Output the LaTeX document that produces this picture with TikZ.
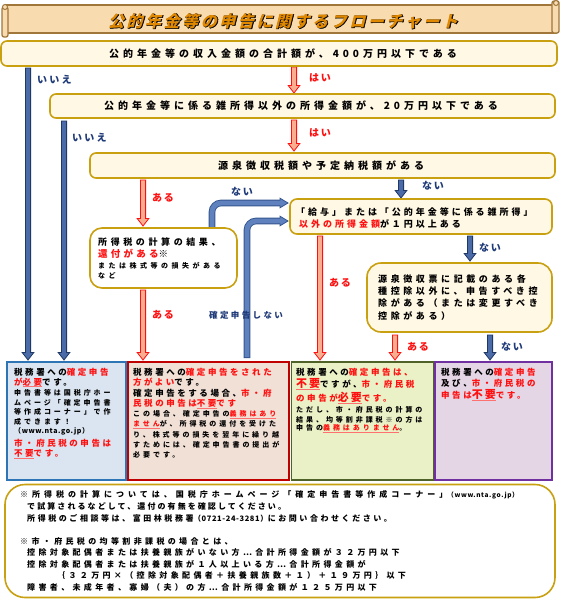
\documentclass[tikz,border=0pt]{standalone}
\usepackage{fontspec}
\setmainfont{Noto Sans CJK JP}
\usetikzlibrary{calc}
\definecolor{cream}{HTML}{FFF8E4}
\definecolor{gold}{HTML}{C8A010}
\definecolor{navy}{HTML}{1F3A78}
\definecolor{jred}{HTML}{FF1010}
\definecolor{ulred}{HTML}{FF7070}
\definecolor{rafill}{HTML}{F9AE90}
\definecolor{badraw}{HTML}{1F3864}
\definecolor{bafill}{HTML}{4A6AA8}
\definecolor{elfill}{HTML}{5F82BE}
\definecolor{eldraw}{HTML}{34558F}
\definecolor{bluebox}{HTML}{DBE5F1}
\definecolor{blueedge}{HTML}{2E75B6}
\definecolor{redbox}{HTML}{F1E0D6}
\definecolor{rededge}{HTML}{C00000}
\definecolor{greenbox}{HTML}{EBF1C6}
\definecolor{greenedge}{HTML}{4F6228}
\definecolor{purplebox}{HTML}{E5D6E6}
\definecolor{purpleedge}{HTML}{7030A0}
\definecolor{banner}{HTML}{F8DCB0}
\definecolor{banneredge}{HTML}{A0763A}
\definecolor{titleor}{HTML}{E08800}
\newcommand\fsz[2]{\fontsize{#1}{#1}\selectfont\addfontfeature{LetterSpace=#2}}
\newcommand\R[1]{\textcolor{jred}{#1}}
\newcommand\ul[1]{\setbox0\hbox{#1}\rlap{\textcolor{ulred}{\rule[-2.4pt]{\wd0}{1.2pt}}}\box0}
\newcommand\vblk[3]{\path[#1] let \p1=(#2), \p2=(#3) in
  (\x1-2.6pt,\y1) -- (\x1+2.6pt,\y1) -- (\x1+2.6pt,\y2+7.5pt) -- (\x1+5.8pt,\y2+7.5pt)
  -- (\x1,\y2) -- (\x1-5.8pt,\y2+7.5pt) -- (\x1-2.6pt,\y2+7.5pt) -- cycle;}
\newcommand\elbow[2]{%
  \draw[line width=6.6pt, eldraw, rounded corners=9pt] (#1) |- ($(#2)+(-6pt,0)$);
  \filldraw[elfill, draw=eldraw, line width=0.8pt] ($(#2)+(-8pt,4.8pt)$) -- (#2) -- ($(#2)+(-8pt,-4.8pt)$) -- cycle;
  \draw[line width=4.8pt, elfill, rounded corners=9pt] ($(#1)+(0,0.8pt)$) |- ($(#2)+(-7pt,0)$);}
\begin{document}
\begin{tikzpicture}[x=1pt,y=-1pt,
  every node/.style={inner sep=0pt, font=\bfseries},
  qbox/.style={draw=gold, line width=1.6pt, fill=cream, rounded corners=6pt},
  rbox/.style={line width=1.8pt},
  txt/.style={anchor=west},
  lbl/.style={anchor=west, text=navy},
  rlbl/.style={anchor=west, text=jred},
  redarr/.style={fill=rafill, draw=jred, line width=0.8pt},
  bluearr/.style={fill=bafill, draw=badraw, line width=0.8pt}]
\useasboundingbox (0,0) rectangle (561,600);
\fill[white] (0,0) rectangle (561,600);

% ---- banner
\draw[fill=banner, draw=banneredge, line width=1.3pt] (6,5) rectangle (556,33);
\draw[fill=banner, draw=banneredge, line width=1.3pt, rounded corners=2pt] (2,7) rectangle (8,37);
\draw[fill=banner, draw=banneredge, line width=1pt] (5,7) circle (2.5);
\draw[fill=banner, draw=banneredge, line width=1.3pt, rounded corners=2pt] (552,1) rectangle (559,33);
\draw[fill=banner, draw=banneredge, line width=1pt] (556,3) circle (2.5);
\node[text=black] (ttls) at (283.6,21.4) {\fsz{16}{16}\addfontfeature{FakeSlant=0.25,FakeBold=3}公的年金等の申告に関するフローチャート};
\node[text=titleor] (ttl) at (283,21) {\fsz{16}{16}\addfontfeature{FakeSlant=0.25}公的年金等の申告に関するフローチャート};

% ---- arrow end points
\coordinate (a1s) at (294,67);  \coordinate (a1e) at (294,93);
\coordinate (a2s) at (294,120); \coordinate (a2e) at (294,151);
\coordinate (a3s) at (28,68);   \coordinate (a3e) at (28,360);
\coordinate (a4s) at (64,121);  \coordinate (a4e) at (64,360);
\coordinate (a5s) at (143,180); \coordinate (a5e) at (143,226);
\coordinate (a6s) at (143,290); \coordinate (a6e) at (143,360);
\coordinate (a7s) at (401,180); \coordinate (a7e) at (401,198);
\coordinate (a8s) at (320,236); \coordinate (a8e) at (320,360);
\coordinate (a9s) at (470,236); \coordinate (a9e) at (470,261);
\coordinate (a10s) at (395,335); \coordinate (a10e) at (395,360);
\coordinate (a11s) at (490,335); \coordinate (a11e) at (490,360);
\coordinate (e1s) at (212,229); \coordinate (e1e) at (288,203);
\coordinate (e2s) at (247,358); \coordinate (e2e) at (288,221);

\vblk{redarr}{a1s}{a1e}
\vblk{redarr}{a2s}{a2e}
\vblk{bluearr}{a3s}{a3e}
\vblk{bluearr}{a4s}{a4e}
\vblk{redarr}{a5s}{a5e}
\vblk{redarr}{a6s}{a6e}
\vblk{bluearr}{a7s}{a7e}
\vblk{redarr}{a8s}{a8e}
\vblk{bluearr}{a9s}{a9e}
\vblk{redarr}{a10s}{a10e}
\vblk{bluearr}{a11s}{a11e}
\elbow{e1s}{e1e}
\elbow{e2s}{e2e}

% ---- question boxes
\node[qbox, minimum width=556pt, minimum height=25pt] (b1) at (279,53.5) {};
\node[qbox, minimum width=505pt, minimum height=24pt] (b2) at (302.5,106) {};
\node[qbox, minimum width=465pt, minimum height=25pt] (b3) at (322.5,165.5) {};
\node[qbox, fill=white, rounded corners=12pt, minimum width=147pt, minimum height=60pt] (b4) at (163.5,258) {};
\node[qbox, rounded corners=7pt, minimum width=262pt, minimum height=35pt] (b5) at (421,216.5) {};
\node[qbox, rounded corners=14pt, minimum width=185pt, minimum height=69pt] (b6) at (459.5,297.5) {};

\node (t1) at (283,54) {\fsz{10}{40}公的年金等の収入金額の合計額が、400万円以下である};
\node (t2) at (301,106) {\fsz{10}{40}公的年金等に係る雑所得以外の所得金額が、20万円以下である};
\node (t3) at (321,165.5) {\fsz{10}{40}源泉徴収税額や予定納税額がある};

\node[txt] (t4a) at (98,242) {\fsz{9}{40}所得税の計算の結果、};
\node[txt] (t4b) at (98,254) {\fsz{9.5}{34}\R{還付がある}※};
\node[txt] (t4c) at (98,266) {\fsz{7}{50}または株式等の損失がある};
\node[txt] (t4d) at (98,276) {\fsz{7}{50}など};

\node[txt] (t5a) at (296,212) {\fsz{9}{33}「給与」または「公的年金等に係る雑所得」};
\node[txt] (t5b) at (299,224) {\fsz{9}{33}\R{以外の所得金額}が１円以上ある};

\node[txt] (t6a) at (378,279) {\fsz{9}{40}源泉徴収票に記載のある各};
\node[txt] (t6b) at (378,291) {\fsz{9}{40}種控除以外に、申告すべき控};
\node[txt] (t6c) at (378,303) {\fsz{9}{40}除がある（または変更すべき};
\node[txt] (t6d) at (378,316) {\fsz{9}{40}控除がある）};

% ---- labels
\node[lbl] (l1) at (37,80) {\fsz{10}{22}いいえ};
\node[rlbl] (l2) at (309,78) {\fsz{10}{18}はい};
\node[rlbl] (l3) at (309,133) {\fsz{10}{18}はい};
\node[lbl] (l4) at (72,138) {\fsz{10}{22}いいえ};
\node[rlbl] (l5) at (152,198) {\fsz{10}{18}ある};
\node[lbl] (l6) at (231,192) {\fsz{10}{18}ない};
\node[lbl] (l7) at (422,186) {\fsz{10}{18}ない};
\node[rlbl] (l8) at (152,315) {\fsz{10}{18}ある};
\node[lbl] (l9) at (209,315) {\fsz{8.5}{28}確定申告しない};
\node[rlbl] (l10) at (329,283) {\fsz{10}{18}ある};
\node[lbl] (l11) at (479,248) {\fsz{10}{18}ない};
\node[rlbl] (l12) at (407,347) {\fsz{10}{18}ある};
\node[lbl] (l13) at (501,347) {\fsz{10}{18}ない};

% ---- result boxes
\node[rbox, draw=blueedge, fill=bluebox, minimum width=119pt, minimum height=118pt] (r1) at (66.5,421) {};
\node[rbox, draw=rededge, fill=redbox, minimum width=161pt, minimum height=118pt] (r2) at (208.5,421) {};
\node[rbox, draw=greenedge, fill=greenbox, minimum width=142pt, minimum height=118pt] (r3) at (362.5,421) {};
\node[rbox, draw=purpleedge, fill=purplebox, minimum width=117pt, minimum height=118pt] (r4) at (493.5,421) {};

\node[txt] (bl1) at (14,372) {\fsz{8.5}{30}税務署への\R{確定申告}};
\node[txt] (bl2) at (14,382.5) {\fsz{8.5}{30}\R{が\ul{必要}}です。};
\node[txt] (bl3) at (14,393) {\fsz{7}{42}申告書等は国税庁ホー};
\node[txt] (bl4) at (14,402.5) {\fsz{7}{42}ムページ「確定申告書};
\node[txt] (bl5) at (14,412) {\fsz{7}{42}等作成コーナー」で作};
\node[txt] (bl6) at (14,421.5) {\fsz{7}{42}成できます！};
\node[txt] (bl7) at (14,431) {\fsz{7}{8}（www.nta.go.jp）};
\node[txt] (bl8) at (14,443) {\fsz{8.5}{30}\R{市・府民税の申告は}};
\node[txt] (bl9) at (14,454) {\fsz{8.5}{30}\R{\ul{不要}です。}};

\node[txt] (rl1) at (133,372) {\fsz{8.5}{30}税務署への\R{確定申告をされた}};
\node[txt] (rl2) at (133,382.5) {\fsz{8.5}{30}\R{方がよい}です。};
\node[txt] (rl3) at (133,393) {\fsz{8.5}{30}確定申告をする場合、\R{市・府}};
\node[txt] (rl4) at (133,404) {\fsz{8.5}{30}\R{民税の申告は\ul{不要}です}};
\node[txt] (rl5) at (133,415) {\fsz{7}{42}この場合、確定申告の\R{\ul{義務はあり}}};
\node[txt] (rl6) at (133,425) {\fsz{7}{42}\R{\ul{ません}}が、所得税の還付を受けた};
\node[txt] (rl7) at (133,435) {\fsz{7}{42}り、株式等の損失を翌年に繰り越};
\node[txt] (rl8) at (133,445) {\fsz{7}{42}すためには、確定申告書の提出が};
\node[txt] (rl9) at (133,455) {\fsz{7}{42}必要です。};

\node[txt] (gl1) at (296,372) {\fsz{8.5}{30}税務署への\R{確定申告は、}};
\node[txt] (gl2) at (296,384) {\fsz{8.5}{30}\R{\ul{\fsz{11}{18}不要}}ですが、\R{市・府民税}};
\node[txt] (gl3) at (296,398) {\fsz{8.5}{30}\R{の申告が\ul{\fsz{11}{18}必要}です。}};
\node[txt] (gl4) at (296,410) {\fsz{7}{42}ただし、市・府民税の計算の};
\node[txt] (gl5) at (296,419.5) {\fsz{7}{42}結果、均等割非課税※の方は};
\node[txt] (gl6) at (296,429) {\fsz{7}{42}申告の\R{\ul{義務はありません}}。};

\node[txt] (pl1) at (441,372) {\fsz{8.5}{30}税務署への\R{確定申告}};
\node[txt] (pl2) at (441,383) {\fsz{8.5}{30}及び、\R{市・府民税の}};
\node[txt] (pl3) at (441,395) {\fsz{8.5}{30}\R{申告は\ul{\fsz{11}{18}不要}です。}};

% ---- notes
\node[draw=gold, line width=1.6pt, fill=white, rounded corners=20pt, minimum width=550pt, minimum height=113pt] (nb) at (280,541) {};
\node[txt] (n1) at (20,495) {\fsz{8}{50}※所得税の計算については、国税庁ホームページ「確定申告書等作成コーナー」{\fsz{6.5}{10}（www.nta.go.jp）}};
\node[txt] (n2) at (27,506) {\fsz{8}{26}で試算されるなどして、還付の有無を確認してください。};
\node[txt] (n3) at (27,518) {\fsz{8}{32}所得税のご相談等は、富田林税務署{\fsz{7.5}{8}（0721-24-3281）}にお問い合わせください。};
\node[txt] (n4) at (20,541) {\fsz{8}{42}※市・府民税の均等割非課税の場合とは、};
\node[txt] (n5) at (27,552) {\fsz{8}{42}控除対象配偶者または扶養親族がいない方…合計所得金額が３２万円以下};
\node[txt] (n6) at (27,564) {\fsz{8}{42}控除対象配偶者または扶養親族が１人以上いる方…合計所得金額が};
\node[txt] (n7) at (57,575) {\fsz{8}{42}｛３２万円×（控除対象配偶者＋扶養親族数＋１）＋１９万円｝以下};
\node[txt] (n8) at (27,587) {\fsz{8}{42}障害者、未成年者、寡婦（夫）の方…合計所得金額が１２５万円以下};
\end{tikzpicture}
\end{document}
